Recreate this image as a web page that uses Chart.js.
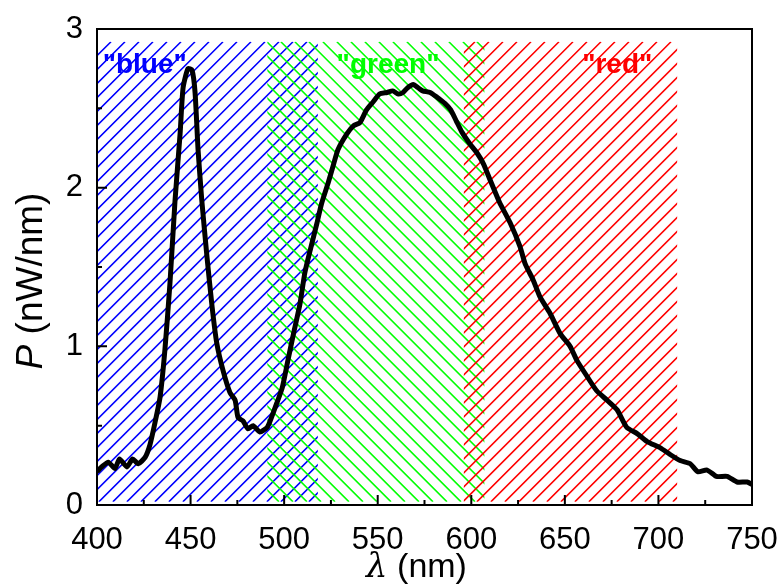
<!DOCTYPE html>
<html>
<head>
<meta charset="utf-8">
<script src="https://cdn.jsdelivr.net/npm/chart.js@4.4.1/dist/chart.umd.min.js"></script>
<style>
  html, body { margin: 0; padding: 0; background: #fff; }
  #wrap { width: 783px; height: 585px; }
</style>
</head>
<body>
<div id="wrap"><canvas id="spectrum"></canvas></div>
<script>
// emission spectrum, wavelength in nm, power in nW/nm
const wavelength = [
  400, 402.5, 406, 409.6, 412, 416, 419, 422, 425.7, 428.3, 431, 433.7, 436.3,
  439, 441.7, 444.4, 446, 448.6, 450.8, 452.4, 454, 456, 458.8, 461.5, 464,
  467.3, 471, 473.8, 475.4, 478, 480.7, 483.4, 487, 491, 493.5, 496, 499, 502,
  505, 508.5, 511, 514, 517.6, 520, 523.5, 526, 528.8, 533.6, 537, 540.5, 544,
  547.5, 551, 555, 558, 561, 563.5, 566, 569, 571.6, 574, 578, 581.7, 586, 589,
  592, 595, 599, 603, 606.5, 610, 615, 620.7, 626, 628.8, 633, 636.8, 642,
  647.5, 652.8, 656.5, 661.9, 667, 672.6, 677.9, 683, 688.6, 694, 701, 706,
  711.6, 717, 721, 726, 731, 736.7, 742, 747.4, 750
];
const power = [
  0.21, 0.24, 0.27, 0.23, 0.29, 0.24, 0.29, 0.26, 0.30, 0.38, 0.52, 0.68, 0.98,
  1.40, 1.92, 2.34, 2.63, 2.75, 2.74, 2.60, 2.24, 1.92, 1.56, 1.25, 1.02,
  0.85, 0.71, 0.66, 0.55, 0.53, 0.48, 0.50, 0.46, 0.49, 0.56, 0.64, 0.74, 0.91,
  1.08, 1.27, 1.46, 1.61, 1.78, 1.90, 2.03, 2.13, 2.24, 2.34, 2.39, 2.41, 2.49,
  2.54, 2.59, 2.60, 2.61, 2.59, 2.60, 2.63, 2.65, 2.63, 2.61, 2.60, 2.57, 2.53, 2.49,
  2.42, 2.35, 2.28, 2.22, 2.15, 2.05, 1.91, 1.78, 1.63, 1.52, 1.42, 1.31, 1.21,
  1.08, 1.00, 0.91, 0.81, 0.72, 0.66, 0.60, 0.49, 0.45, 0.40, 0.36, 0.32,
  0.28, 0.26, 0.21, 0.22, 0.18, 0.18, 0.145, 0.145, 0.13
];

// colour bands (nm)
const bandNames = ['"blue"', '"green"', '"red"'];
const bandStart = [400, 491, 596];
const bandEnd = [518, 607, 710];
const bandColors = ['#0000ff', '#00ff00', '#ff0000'];
const bandLabelX = [425.5, 555.5, 678];

const xTicks = [400, 450, 500, 550, 600, 650, 700, 750];
const yTicks = [0, 1, 2, 3];

const FONT = '"Liberation Sans", Arial, sans-serif';

const bands = {
  id: 'bands',
  beforeDatasetsDraw(chart) {
    const { ctx, scales: { x, y } } = chart;
    const top = y.getPixelForValue(2.92);
    const bottom = y.getPixelForValue(0.02);
    const h = bottom - top;
    const step = 14;
    ctx.save();
    bandStart.forEach((s, i) => {
      const left = x.getPixelForValue(s);
      const right = x.getPixelForValue(bandEnd[i]);
      ctx.save();
      ctx.beginPath();
      ctx.rect(left, top, right - left, h);
      ctx.clip();
      ctx.strokeStyle = bandColors[i];
      ctx.lineWidth = 1.6;
      ctx.beginPath();
      const x0 = chart.chartArea.left;
      const green = i === 1;
      for (let a = x0 - h - step * 2; a < right + h + step; a += step) {
        if (green) {
          ctx.moveTo(a, top);
          ctx.lineTo(a + h, bottom);
        } else {
          ctx.moveTo(a, bottom);
          ctx.lineTo(a + h, top);
        }
      }
      ctx.stroke();
      ctx.restore();
    });
    ctx.font = 'bold 28px ' + FONT;
    ctx.textAlign = 'center';
    ctx.textBaseline = 'alphabetic';
    bandNames.forEach((name, i) => {
      ctx.fillStyle = bandColors[i];
      ctx.fillText(name, x.getPixelForValue(bandLabelX[i]), y.getPixelForValue(2.72));
    });
    ctx.restore();
  }
};

// frame, inward ticks and axis titles
const frame = {
  id: 'frame',
  afterDraw(chart) {
    const { ctx, chartArea: a, scales: { x, y } } = chart;
    ctx.save();
    ctx.strokeStyle = '#000';
    ctx.lineWidth = 2;
    ctx.strokeRect(a.left, a.top, a.right - a.left, a.bottom - a.top);
    ctx.beginPath();
    for (let v = 400; v <= 750; v += 25) {
      const px = x.getPixelForValue(v);
      const len = v % 50 === 0 ? 10 : 5;
      ctx.moveTo(px, a.bottom);
      ctx.lineTo(px, a.bottom - len);
    }
    for (let v = 0; v <= 3; v += 0.5) {
      const py = y.getPixelForValue(v);
      const len = Number.isInteger(v) ? 10 : 5;
      ctx.moveTo(a.left, py);
      ctx.lineTo(a.left + len, py);
    }
    ctx.stroke();

    ctx.fillStyle = '#000';
    ctx.textBaseline = 'alphabetic';
    // x title
    const xt = ' (nm)';
    ctx.font = '34px ' + FONT;
    const wRest = ctx.measureText(xt).width;
    ctx.font = 'italic 34px "DejaVu Serif", serif';
    const wL = ctx.measureText('λ').width;
    let cx = (a.left + a.right) / 2 - 8 - (wL + wRest) / 2;
    ctx.fillText('λ', cx, 577);
    ctx.font = '34px ' + FONT;
    ctx.fillText(xt, cx + wL, 577);
    // y title
    ctx.translate(42, 281);
    ctx.rotate(-Math.PI / 2);
    const yt = ' (nW/nm)';
    ctx.font = 'italic 37px ' + FONT;
    const wP = ctx.measureText('P').width;
    ctx.font = '37px ' + FONT;
    const wY = ctx.measureText(yt).width;
    const sx = -(wP + wY) / 2;
    ctx.font = 'italic 37px ' + FONT;
    ctx.fillText('P', sx, 0);
    ctx.font = '37px ' + FONT;
    ctx.fillText(yt, sx + wP, 0);
    ctx.restore();
  }
};

new Chart(document.getElementById('spectrum'), {
  type: 'line',
  data: {
    datasets: [{
      data: wavelength.map((w, i) => ({ x: w, y: power[i] })),
      borderColor: '#000',
      borderWidth: 5,
      pointRadius: 0,
      tension: 0.2,
      fill: false
    }]
  },
  options: {
    responsive: true,
    maintainAspectRatio: false,
    animation: false,
    layout: { padding: { top: 29, right: 31, left: 0, bottom: 0 } },
    plugins: { legend: { display: false }, tooltip: { enabled: false } },
    scales: {
      x: {
        type: 'linear',
        min: 400,
        max: 750,
        afterBuildTicks: s => { s.ticks = xTicks.map(v => ({ value: v })); },
        afterFit: s => { s.height = 80; s.paddingLeft = 0; s.paddingRight = 0; },
        grid: { display: false, drawTicks: false },
        border: { display: false },
        ticks: { color: '#000', font: { family: FONT, size: 31 }, padding: 17, maxRotation: 0 }
      },
      y: {
        min: 0,
        max: 3,
        afterBuildTicks: s => { s.ticks = yTicks.map(v => ({ value: v })); },
        afterFit: s => { s.width = 97; s.paddingTop = 0; s.paddingBottom = 0; },
        grid: { display: false, drawTicks: false },
        border: { display: false },
        ticks: { color: '#000', font: { family: FONT, size: 31 }, padding: 14 }
      }
    }
  },
  plugins: [bands, frame]
});
</script>
</body>
</html>
